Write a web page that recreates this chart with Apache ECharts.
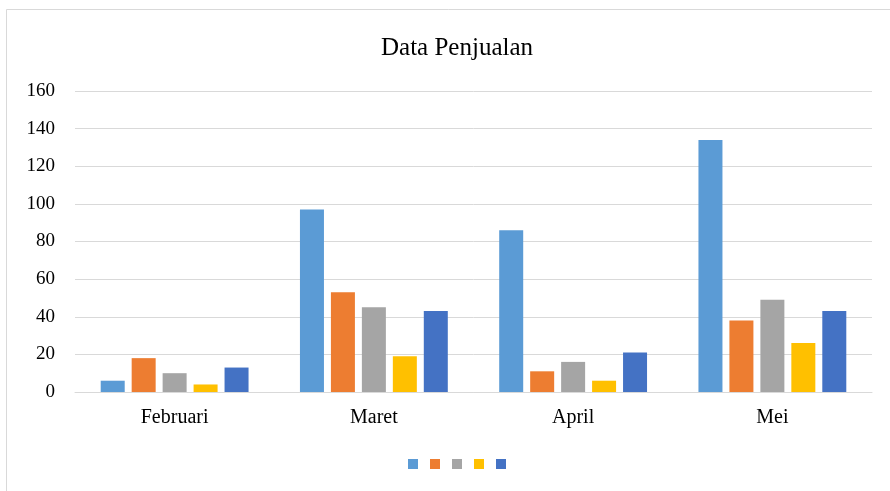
<!DOCTYPE html>
<html lang="id">
<head>
    <meta charset="utf-8"/>
    <title>Data Penjualan</title>
    <script src="https://cdn.jsdelivr.net/npm/echarts@6/dist/echarts.min.js"></script>
</head>
<style>
    * { margin: 0; padding: 0; }
    html, body { width: 100%; height: 100%; background: #fff; }
    #main { width: 890px; height: 491px; }
</style>
<body>
<div id="main"></div>
<script>
    // data
    var bulan = ['Februari', 'Maret', 'April', 'Mei'];
    var seri1 = [6, 97, 86, 134];
    var seri2 = [18, 53, 11, 38];
    var seri3 = [10, 45, 16, 49];
    var seri4 = [4, 19, 6, 26];
    var seri5 = [13, 43, 21, 43];
    var yTicks = [0, 20, 40, 60, 80, 100, 120, 140, 160];

    var warna = ['#5B9BD5', '#ED7D31', '#A5A5A5', '#FFC000', '#4472C4'];
    var semua = [seri1, seri2, seri3, seri4, seri5];
    var namaSeri = ['s1', 's2', 's3', 's4', 's5'];

    var chart = echarts.init(document.getElementById('main'));
    var font = 'Liberation Serif, Times New Roman, serif';

    var series = semua.map(function (d, i) {
        return {
            name: namaSeri[i],
            type: 'bar',
            data: d,
            barWidth: 24,
            barGap: '29%',
            itemStyle: { color: warna[i] }
        };
    });

    var option = {
        animation: false,
        backgroundColor: '#fff',
        color: warna,
        title: {
            text: 'Data Penjualan',
            left: 452,
            textAlign: 'center',
            top: 31,
            textStyle: { fontFamily: font, fontSize: 25, fontWeight: 'normal', color: '#000' }
        },
        graphic: [{
            type: 'rect',
            shape: { x: 6.5, y: 9.5, width: 900, height: 500 },
            style: { fill: 'none', stroke: '#d9d9d9', lineWidth: 1 },
            silent: true
        }],
        legend: {
            bottom: 17,
            left: 403,
            itemWidth: 10,
            itemHeight: 10,
            itemGap: 12,
            icon: 'rect',
            formatter: function () { return ''; },
            textStyle: { fontSize: 1 }
        },
        grid: { left: 75, right: 18, top: 91, bottom: 99 },
        xAxis: {
            type: 'category',
            data: bulan,
            axisTick: { show: false },
            axisLine: { lineStyle: { color: '#d9d9d9' } },
            axisLabel: { fontFamily: font, fontSize: 20, color: '#000', margin: 16 }
        },
        yAxis: {
            type: 'value',
            min: yTicks[0],
            max: yTicks[yTicks.length - 1],
            interval: 20,
            axisLine: { show: false },
            axisTick: { show: false },
            axisLabel: { fontFamily: font, fontSize: 19, color: '#000', margin: 20 },
            splitLine: { lineStyle: { color: '#d9d9d9', width: 1 } }
        },
        series: series
    };
    chart.setOption(option);
</script>
</body>
</html>
